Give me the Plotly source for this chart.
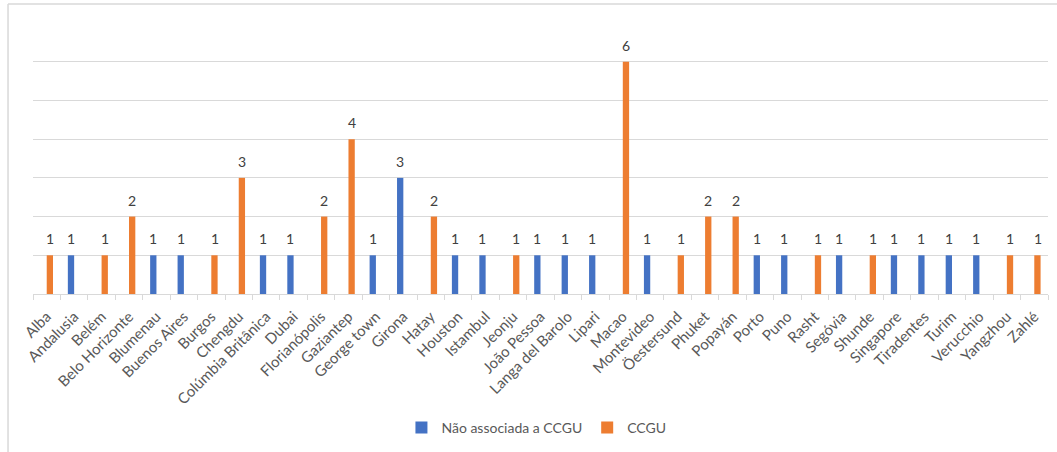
import plotly.graph_objects as go

categories = ["Alba", "Andalusia", "Belém", "Belo Horizonte", "Blumenau", "Buenos Aires",
              "Burgos", "Chengdu", "Colúmbia Britânica", "Dubai", "Florianópolis", "Gaziantep",
              "George town", "Girona", "Hatay", "Houston", "Istambul", "Jeonju", "João Pessoa",
              "Langa del Barolo", "Lipari", "Macao", "Montevideo", "Öestersund", "Phuket",
              "Popayán", "Porto", "Puno", "Rasht", "Segóvia", "Shunde", "Singapore",
              "Tiradentes", "Turim", "Verucchio", "Yangzhou", "Zahlé"]

nao_ccgu = [None, 1, None, None, 1, 1, None, None, 1, 1, None, None, 1, 3, None, 1, 1, None, 1,
            1, 1, None, 1, None, None, None, 1, 1, None, 1, None, 1, 1, 1, 1, None, None]

ccgu = [1, None, 1, 2, None, None, 1, 3, None, None, 2, 4, None, None, 2, None, None, 1, None,
        None, None, 6, None, 1, 2, 2, None, None, 1, None, 1, None, None, None, None, 1, 1]

series_names = ["Não associada a CCGU", "CCGU"]
colors = ["#4472C4", "#ED7D31"]

FONT = "Lato, 'Open Sans', sans-serif"
GRID = "#d9d9d9"

fig = go.Figure()
annotations = []
for name, vals, col, shift in zip(series_names, [nao_ccgu, ccgu], colors, [-3.3, 3.3]):
    fig.add_trace(go.Bar(
        x=categories, y=vals, name=name, marker_color=col, marker_line_width=0,
    ))
    for c, v in zip(categories, vals):
        if v is not None:
            annotations.append(dict(
                x=c, y=v, xref="x", yref="y", text=str(v), showarrow=False,
                xshift=shift, yanchor="bottom", yshift=6,
                font=dict(family=FONT, size=14, color="#404040"),
            ))

fig.update_layout(
    width=1057, height=452,
    margin=dict(l=33, r=9, t=23, b=157),
    paper_bgcolor="white", plot_bgcolor="white",
    barmode="group", bargap=0.54, bargroupgap=0,
    font=dict(family=FONT, color="#595959"),
    showlegend=True,
    legend=dict(orientation="h", x=0.496, xanchor="center", y=-0.489, yanchor="middle",
                font=dict(family=FONT, size=14, color="#595959"),
                itemwidth=30, traceorder="normal"),
    xaxis=dict(
        tickangle=-45, tickfont=dict(family=FONT, size=15, color="#595959"),
        showgrid=False, showline=True, linecolor=GRID, linewidth=1,
        ticks="outside", ticklen=5, tickcolor=GRID, tickson="boundaries",
        ticklabelstandoff=7, automargin=False, fixedrange=True,
    ),
    yaxis=dict(
        range=[0, 7], dtick=1, showticklabels=False, showgrid=True, gridcolor=GRID,
        gridwidth=1, zeroline=False, showline=False, ticks="", fixedrange=True,
    ),
    annotations=annotations,
    shapes=[
        dict(type="line", xref="paper", yref="paper", x0=-0.0246, x1=-0.0246, y0=-0.7, y1=1.0699,
             line=dict(color=GRID, width=1.5)),
        dict(type="line", xref="paper", yref="paper", x0=-0.0246, x1=1.05, y0=1.0699, y1=1.0699,
             line=dict(color=GRID, width=1.5)),
    ],
)

fig.write_html("out.html")
